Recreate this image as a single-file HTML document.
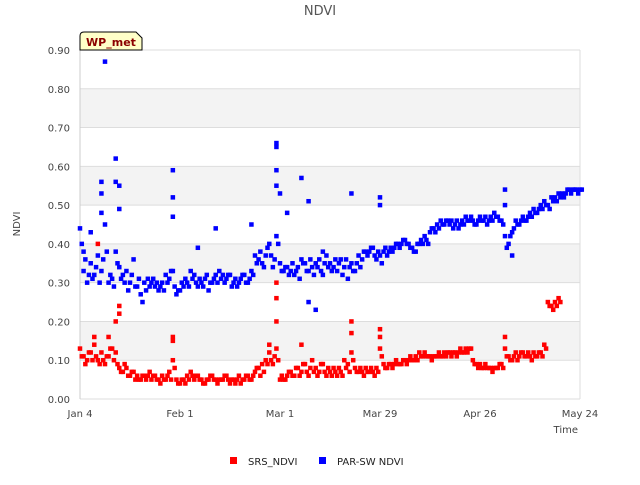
<!DOCTYPE html>
<html><head><meta charset="utf-8"><style>
body{margin:0;background:#fff;font-family:"Liberation Sans","DejaVu Sans",sans-serif}
svg text{font-family:"DejaVu Sans","Liberation Sans",sans-serif}
</style></head><body>
<svg id="c" width="640" height="480" xmlns="http://www.w3.org/2000/svg">
<rect width="640" height="480" fill="#fff"/>
<text x="320" y="15" text-anchor="middle" font-size="13" fill="#555">NDVI</text>
<g id="grid"></g>
<g id="axes"></g>
<g id="marks"></g>
<text x="20" y="224" font-size="10" fill="#444" text-anchor="middle" transform="rotate(-90 20 224)">NDVI</text>
<text x="578" y="433" font-size="10" fill="#444" text-anchor="end">Time</text>
<g>
<path d="M80,50 L80,36 Q80,32 84,32 L136,32 L142,38 L142,50 Z" fill="#ffffc8" stroke="#000" stroke-width="1"/>
<text x="111" y="46" text-anchor="middle" font-size="11" font-weight="bold" fill="#8b0000">WP_met</text>
</g>
<g>
<rect x="230" y="457" width="7" height="7" fill="#f00"/>
<text x="248" y="465" font-size="10" fill="#222">SRS_NDVI</text>
<rect x="319" y="457" width="7" height="7" fill="#00f"/>
<text x="337" y="465" font-size="10" fill="#222">PAR-SW NDVI</text>
</g>
</svg>
<script>
const yTicks=[0,0.1,0.2,0.3,0.4,0.5,0.6,0.7,0.8,0.9];
const yTickLabels=["0.00","0.10","0.20","0.30","0.40","0.50","0.60","0.70","0.80","0.90"];
const xTickDays=[0,28,56,84,112,140];
const xTickLabels=["Jan 4","Feb 1","Mar 1","Mar 29","Apr 26","May 24"];
const srsA=[.13,.11,.10,.12,.14,.10,.12,.09,.11,.13,.12,.08,.07,.08,.06,.07,.06,.05,.06,.06,.05,.06,.05,.06,.05,.07,.10,.05,.04,.05,.06,.07,.05,.06,.05,.04,.05,.06,.05,.05,.05,.06,.04,.05,.05,.04,.05,.06,.05,.07,.08,.09,.10,.12,.09,.13,.05,.05,.06,.07,.06,.08,.07,.09,.06,.10,.08,.07,.09,.06,.07,.08,.06,.07,.10,.09,.12,.08,.07,.07,.08,.07,.07,.08,.13,.09,.08,.09,.09,.09,.09,.10,.10,.10,.11,.12,.11,.11,.11,.11,.11,.11,.12,.12,.11,.12,.12,.12,.13,.13,.10,.09,.09,.08,.08,.08,.08,.08,.09,.13,.11,.10,.12,.11,.12,.11,.11,.12,.11,.12,.14,.25,.24,.25,.26];
const srsB=[.11,.09,.12,.10,.11,.09,.10,.11,.13,.10,.09,.07,.09,.06,.07,.05,.05,.06,.05,.07,.06,.05,.04,.05,.06,.05,.08,.04,.05,.04,.05,.06,.06,.05,.04,.05,.06,.05,.04,.05,.06,.05,.05,.04,.06,.05,.06,.05,.06,.08,.06,.07,.09,.10,.11,.10,.06,.05,.07,.06,.08,.06,.09,.07,.08,.07,.06,.09,.07,.08,.06,.07,.08,.06,.08,.07,.10,.07,.08,.06,.07,.08,.06,.07,.11,.08,.09,.08,.10,.09,.10,.09,.11,.10,.10,.11,.12,.11,.10,.11,.12,.11,.11,.12,.12,.11,.13,.12,.12,.13,.09,.08,.08,.09,.08,.07,.08,.09,.08,.11,.10,.11,.10,.12,.11,.12,.10,.11,.12,.11,.13,.24,.23,.24,.25];
const srsOutDays=[5,10,11,11,26,26,55,55,55,76,76,84,84,119,4,8,53,62];
const srsOutVals=[.40,.20,.24,.22,.16,.15,.30,.26,.20,.20,.17,.18,.16,.16,.16,.16,.14,.14];
const parA=[.44,.33,.30,.35,.32,.37,.33,.45,.30,.31,.38,.34,.32,.33,.30,.36,.29,.27,.30,.31,.30,.29,.28,.30,.32,.31,.33,.27,.28,.29,.30,.33,.32,.29,.30,.31,.28,.30,.32,.33,.32,.31,.32,.30,.29,.31,.32,.30,.33,.37,.36,.35,.37,.40,.34,.42,.35,.33,.34,.33,.32,.34,.36,.35,.33,.34,.35,.36,.32,.37,.35,.34,.33,.36,.34,.31,.35,.33,.37,.36,.38,.38,.39,.36,.37,.38,.37,.39,.39,.40,.40,.41,.40,.39,.38,.40,.40,.41,.43,.44,.45,.46,.45,.46,.46,.45,.44,.46,.47,.46,.46,.45,.47,.46,.45,.47,.48,.47,.46,.42,.40,.43,.46,.45,.47,.46,.48,.49,.48,.50,.51,.50,.52,.52,.53,.53,.53,.54,.54,.54,.54];
const parB=[.40,.36,.32,.31,.34,.30,.36,.38,.32,.29,.35,.31,.30,.28,.32,.29,.31,.25,.28,.29,.31,.30,.29,.28,.30,.33,.29,.28,.30,.31,.29,.31,.30,.31,.29,.32,.30,.31,.30,.31,.30,.32,.29,.31,.30,.32,.30,.31,.32,.35,.38,.34,.39,.37,.36,.40,.33,.34,.32,.35,.33,.31,.35,.33,.36,.32,.34,.33,.35,.34,.33,.36,.35,.32,.36,.34,.33,.35,.34,.38,.37,.39,.37,.38,.35,.39,.38,.38,.40,.39,.41,.40,.39,.38,.40,.41,.42,.40,.44,.43,.44,.45,.46,.45,.44,.46,.45,.45,.46,.47,.45,.46,.46,.47,.46,.46,.47,.46,.45,.39,.42,.44,.45,.46,.46,.47,.47,.48,.49,.49,.50,.49,.51,.51,.52,.52,.54,.53,.54,.53,.54];
const parOutDays=[7,10,10,6,6,6,11,11,26,26,26,55,55,55,55,56,58,62,64,76,84,84,119,119,121,38,33,48,64,66,68,1,3];
const parOutVals=[.87,.62,.56,.56,.53,.48,.55,.49,.59,.52,.47,.66,.65,.59,.55,.53,.48,.57,.51,.53,.52,.50,.54,.50,.37,.44,.39,.45,.25,.23,.38,.38,.43];

const X0=80,X1=580,Y0=399,Y1=50,DMAX=140,VMAX=0.9;
const xs=d=>X0+d/DMAX*(X1-X0);
const ys=v=>Y0-v/VMAX*(Y0-Y1);
const NS="http://www.w3.org/2000/svg";
function mk(tag,attrs,parent){const e=document.createElementNS(NS,tag);for(const k in attrs)e.setAttribute(k,attrs[k]);parent.appendChild(e);return e;}
const grid=document.getElementById('grid'),axes=document.getElementById('axes'),marks=document.getElementById('marks');
for(let i=0;i<yTicks.length-1;i++){
  const b=mk('rect',{x:X0,y:ys(yTicks[i+1]),width:X1-X0,height:ys(yTicks[i])-ys(yTicks[i+1]),fill:i%2===1?'#f3f3f3':'#fff'},grid);
  
  
}
yTicks.forEach((v,i)=>{
  const l=mk('line',{x1:X0,x2:X1,y1:ys(v),y2:ys(v),stroke:'#ddd','stroke-width':1},grid);
  
  
  const t=mk('text',{x:X0-10,y:ys(v)+4,'text-anchor':'end','font-size':10,fill:'#444'},axes);
  t.textContent=yTickLabels[i];
  
  
});
const ax=mk('line',{x1:X0,x2:X0,y1:Y1,y2:Y0,stroke:'#ccc'},axes);


const ax2=mk('line',{x1:X1,x2:X1,y1:Y1,y2:Y0,stroke:'#ddd'},axes);


xTickDays.forEach((d,i)=>{
  const t=mk('text',{x:xs(d),y:Y0+18,'text-anchor':'middle','font-size':10,fill:'#444'},axes);
  t.textContent=xTickLabels[i];
  
  
});
function pt(d,v,col,name){
  if(v==null)return;
  const r=mk('rect',{x:xs(d)-2.25,y:ys(v)-2.25,width:4.5,height:4.5,fill:col},marks);
  
  
}
parA.forEach((v,d)=>pt(d,v,'#00f','par-point'));
parB.forEach((v,d)=>pt(d+0.5,v,'#00f','par-point'));
parOutDays.forEach((d,i)=>pt(d,parOutVals[i],'#00f','par-point'));
srsA.forEach((v,d)=>pt(d,v,'#f00','srs-point'));
srsB.forEach((v,d)=>pt(d+0.5,v,'#f00','srs-point'));
srsOutDays.forEach((d,i)=>pt(d,srsOutVals[i],'#f00','srs-point'));
</script>
</body></html>
